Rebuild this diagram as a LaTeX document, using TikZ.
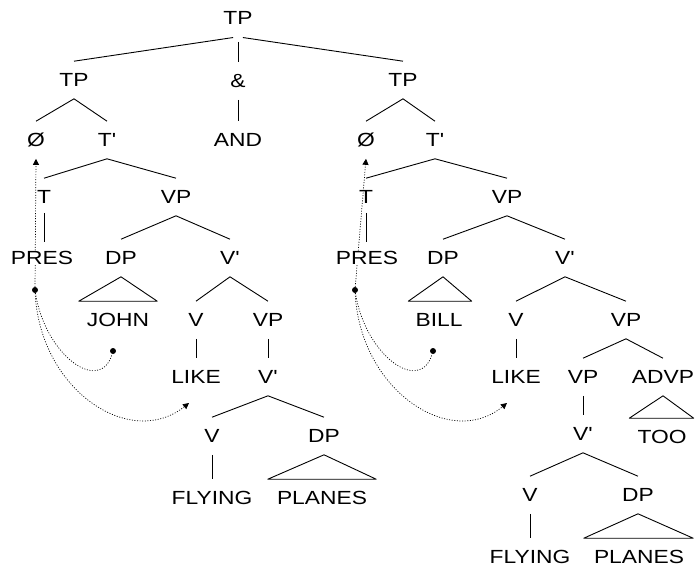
\documentclass[tikz,border=0pt]{standalone}
\usepackage{fontspec}
\newfontfamily\labfont[FakeStretch=1.2]{Liberation Sans}
\usetikzlibrary{arrows.meta,backgrounds}
\begin{document}
\begin{tikzpicture}[x=1pt,y=-1pt,
  lab/.style={font=\labfont\fontsize{19}{22}\selectfont, inner sep=0pt, outer ysep=12pt, text height=13.6pt, text depth=0pt, anchor=center},
  br/.style={line width=0.9pt},
  un/.style={br, shorten <=-3pt, shorten >=-3pt},
  tri/.style={br, line join=round},
  mov/.style={line width=0.7pt, dash pattern=on 1pt off 1.6pt},
  dotn/.style={circle, fill, inner sep=0pt, minimum size=6pt},
  tip/.style={-{Triangle[length=6pt,width=6pt]}}]
\useasboundingbox (0,0) rectangle (697,571);
% labels
\node[lab] (top) at (238,18) {TP};
\node[lab] (tpL) at (74,80) {TP};
\node[lab] (amp) at (238,81) {\&};
\node[lab] (tpR) at (403,80) {TP};
\node[lab] (oL) at (36,140) {Ø};
\node[lab] (tbL) at (107,140) {T'};
\node[lab] (and) at (238,140) {AND};
\node[lab] (oR) at (366,140) {Ø};
\node[lab] (tbR) at (435,140) {T'};
\node[lab] (tL) at (44,197) {T};
\node[lab] (vpL) at (176,197) {VP};
\node[lab] (tR) at (366,197) {T};
\node[lab] (vpR) at (507,197) {VP};
\node[lab,fill=white] (presL) at (42,258) {PRES};
\node[lab] (dpL) at (121,258) {DP};
\node[lab] (vbL) at (230,258) {V'};
\node[lab,fill=white] (presR) at (367,258) {PRES};
\node[lab] (dpR) at (443,258) {DP};
\node[lab] (vbR) at (565,258) {V'};
\node[lab] (john) at (118,320) {JOHN};
\node[lab] (vL) at (196,320) {V};
\node[lab] (vp2L) at (268,320) {VP};
\node[lab] (bill) at (439,320) {BILL};
\node[lab] (vR) at (516,320) {V};
\node[lab] (vp2R) at (626,320) {VP};
\node[lab] (likeL) at (196,377) {LIKE};
\node[lab] (vb2L) at (268,377) {V'};
\node[lab] (likeR) at (516,377) {LIKE};
\node[lab] (vp3R) at (583,377) {VP};
\node[lab] (advp) at (663,377) {ADVP};
\node[lab] (vb2R) at (583,434) {V'};
\node[lab] (too) at (662,437) {TOO};
\node[lab] (v3L) at (212,436) {V};
\node[lab] (dp3L) at (324,436) {DP};
\node[lab] (flyL) at (212,498) {FLYING};
\node[lab] (plL) at (322,498) {PLANES};
\node[lab] (v3R) at (530,495) {V};
\node[lab] (dp3R) at (638,495) {DP};
\node[lab] (flyR) at (530,557) {FLYING};
\node[lab] (plR) at (639,557) {PLANES};
% branches
\draw[br, shorten <=5pt] (top.south) -- (tpL.north);
\draw[br, shorten <=5pt] (top.south) -- (tpR.north);
\draw[br, shorten <=5pt] (top.south) -- (amp.north);
\draw[br] (amp.south) -- (and.north);
\draw[br] (tpL.south) -- (oL.north);
\draw[br] (tpL.south) -- (tbL.north);
\draw[br] (tbL.south) -- (tL.north);
\draw[br] (tbL.south) -- (vpL.north);
\draw[un] (tL.south) -- (tL.south |- presL.north);
\draw[br] (vpL.south) -- (dpL.north);
\draw[br] (vpL.south) -- (vbL.north);
\draw[tri] (dpL.south) -- ([xshift=-8pt]john.north west) -- ([xshift=8pt]john.north east) -- cycle;
\draw[br] (vbL.south) -- (vL.north);
\draw[br] (vbL.south) -- (vp2L.north);
\draw[br] (vL.south) -- (likeL.north);
\draw[br] (vp2L.south) -- (vb2L.north);
\draw[br] (vb2L.south) -- (v3L.north);
\draw[br] (vb2L.south) -- (dp3L.north);
\draw[br] (v3L.south) -- (v3L.south |- flyL.north);
\draw[tri] (dp3L.south) -- ([xshift=-9pt]plL.north west) -- ([xshift=9pt]plL.north east) -- cycle;
\draw[br] (tpR.south) -- (oR.north);
\draw[br] (tpR.south) -- (tbR.north);
\draw[br] (tbR.south) -- (tR.north);
\draw[br] (tbR.south) -- (vpR.north);
\draw[un] (tR.south) -- (tR.south |- presR.north);
\draw[br] (vpR.south) -- (dpR.north);
\draw[br] (vpR.south) -- (vbR.north);
\draw[tri] (dpR.south) -- ([xshift=-7pt]bill.north west) -- ([xshift=9pt]bill.north east) -- cycle;
\draw[br] (vbR.south) -- (vR.north);
\draw[br] (vbR.south) -- (vp2R.north);
\draw[br] (vR.south) -- (likeR.north);
\draw[br] (vp2R.south) -- (vp3R.north);
\draw[br] (vp2R.south) -- (advp.north);
\draw[tri] (advp.south) -- ([xshift=-8pt]too.north west) -- ([xshift=7pt]too.north east) -- cycle;
\draw[br] (vp3R.south) -- (vp3R.south |- vb2R.north);
\draw[br] (vb2R.south) -- (v3R.north);
\draw[br] (vb2R.south) -- (dp3R.north);
\draw[br] (v3R.south) -- (v3R.south |- flyR.north);
\draw[tri] (dp3R.south) -- ([xshift=-10pt]plR.north west) -- ([xshift=9pt]plR.north east) -- cycle;
% movement
\node[dotn] (dL1) at (35,290) {};
\node[dotn] (dL2) at (113,351) {};
\coordinate (aL) at (189,403);
\node[dotn] (dR1) at (355,290) {};
\node[dotn] (dR2) at (433,351) {};
\coordinate (aR) at (507,403);
\begin{scope}[on background layer]
\fill[white] (0,0) rectangle (697,571);
\draw[mov,tip] (dL1) -- (oL.south);
\draw[mov] (dL1) .. controls (45,355) and (100,395) .. (dL2);
\draw[mov,tip] (dL1) .. controls (40,390) and (130,450) .. (aL);
\draw[mov,tip] (dR1) -- (oR.south);
\draw[mov] (dR1) .. controls (365,355) and (420,395) .. (dR2);
\draw[mov,tip] (dR1) .. controls (360,390) and (450,450) .. (aR);
\end{scope}
\end{tikzpicture}
\end{document}
